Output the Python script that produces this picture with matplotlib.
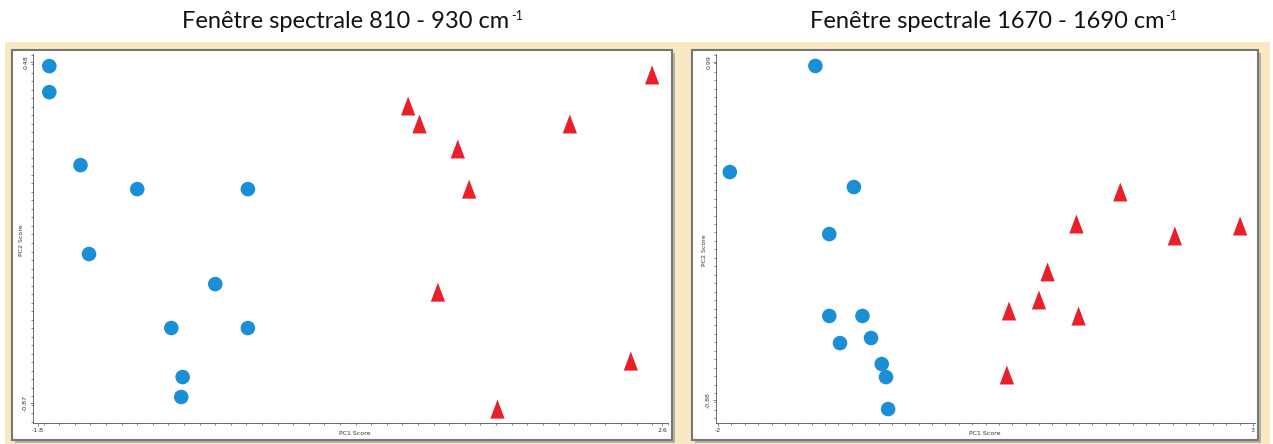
import matplotlib.pyplot as plt
from matplotlib.patches import Rectangle
from matplotlib.ticker import MultipleLocator

# scores (PC1, PC2)
left_blue_x = [-1.72, -1.72, -1.50, -1.10, -0.32, -1.44, -0.55, -0.86, -0.32, -0.78, -0.79]
left_blue_y = [0.464, 0.361, 0.072, -0.023, -0.023, -0.280, -0.399, -0.573, -0.573, -0.767, -0.846]
left_red_x = [2.53, 0.81, 0.89, 1.95, 1.16, 1.24, 1.02, 2.38, 1.44]
left_red_y = [0.425, 0.302, 0.231, 0.231, 0.132, -0.027, -0.435, -0.708, -0.898]

right_blue_x = [-1.09, -1.89, -0.73, -0.96, -0.96, -0.65, -0.86, -0.57, -0.47, -0.43, -0.41]
right_blue_y = [0.968, 0.381, 0.298, 0.038, -0.415, -0.415, -0.565, -0.537, -0.681, -0.753, -0.930]
right_red_x = [1.76, 2.88, 1.35, 2.27, 1.08, 1.00, 0.72, 1.37, 0.70]
right_red_y = [0.265, 0.077, 0.088, 0.022, -0.177, -0.332, -0.393, -0.421, -0.747]

titles = ["Fenêtre spectrale 810 - 930 cm", "Fenêtre spectrale 1670 - 1690 cm"]
x_ticks = [(-1.8, 2.6), (-2, 3)]
x_ticklabels = [("-1.8", "2.6"), ("-2", "3")]
y_ticks = [(-0.87, 0.48), (-0.88, 0.99)]
y_ticklabels = [("-0.87", "0.48"), ("-0.88", "0.99")]

W, H = 1273, 444
fig = plt.figure(figsize=(W / 100, H / 100), dpi=100)
fig.patch.set_facecolor("white")

def fx(px):
    return px / W

def fy(py):
    return 1 - py / H

# narrow, slightly tall triangle like the original software marker
tri = [(-0.42, -0.5), (0.42, -0.5), (0, 0.62), (-0.42, -0.5)]

# beige background band
fig.patches.append(Rectangle((fx(5), 0), fx(1265), fy(42), transform=fig.transFigure,
                             facecolor="#f8e8c4", edgecolor="none", zorder=-3))

panels = [
    dict(frame=(12, 50, 672, 440), ax=(33, 54, 668, 423),
         xlim=(-1.835, 2.642), ylim=(-0.949, 0.512), title_x=346,
         blue=(left_blue_x, left_blue_y), red=(left_red_x, left_red_y),
         pc1=(355, 433), pc2=(22, 240)),
    dict(frame=(692, 50, 1258, 440), ax=(716, 54, 1255, 423),
         xlim=(-2.019, 3.019), ylim=(-1.007, 1.034), title_x=987,
         blue=(right_blue_x, right_blue_y), red=(right_red_x, right_red_y),
         pc1=(985, 433), pc2=(705, 250)),
]

for i, p in enumerate(panels):
    x0, y0, x1, y1 = p["frame"]
    # white frame with grey border and a soft shadow
    fig.patches.append(Rectangle((fx(x0 + 3), fy(y1 + 3)), fx(x1 - x0), fy(y0) - fy(y1),
                                 transform=fig.transFigure, facecolor="#b8b0a0",
                                 edgecolor="none", zorder=-2))
    fig.patches.append(Rectangle((fx(x0), fy(y1)), fx(x1 - x0), fy(y0) - fy(y1),
                                 transform=fig.transFigure, facecolor="white",
                                 edgecolor="#777777", lw=1.5, zorder=-1))

    a0, b0, a1, b1 = p["ax"]
    ax = fig.add_axes([fx(a0), fy(b1), fx(a1 - a0), fy(b0) - fy(b1)])
    ax.set_facecolor("none")
    ax.set_xlim(*p["xlim"])
    ax.set_ylim(*p["ylim"])
    for s in ["top", "right"]:
        ax.spines[s].set_visible(False)
    for s in ["left", "bottom"]:
        ax.spines[s].set_color("#555555")
        ax.spines[s].set_linewidth(0.6)

    ax.scatter(*p["blue"], s=110, marker="o", color="#1b8fd5", edgecolors="none", zorder=3)
    ax.scatter(*p["red"], s=230, marker=tri, color="#e8202a", edgecolors="none", zorder=3)

    ax.set_xticks(x_ticks[i])
    ax.set_xticklabels(x_ticklabels[i], fontsize=4.5, color="#333333")
    ax.set_yticks(y_ticks[i])
    ax.set_yticklabels(y_ticklabels[i], fontsize=4.5, color="#333333", rotation=90, va="center")
    ax.xaxis.set_minor_locator(MultipleLocator((x_ticks[i][1] - x_ticks[i][0]) / 40))
    ax.yaxis.set_minor_locator(MultipleLocator((y_ticks[i][1] - y_ticks[i][0]) / 40))
    ax.tick_params(which="both", length=2, width=0.5, color="#555555", pad=1.5)
    ax.tick_params(which="minor", length=1.2)

    fig.text(fx(p["pc1"][0]), fy(p["pc1"][1]), "PC1 Score", fontsize=4.5, color="#333333",
             ha="center", va="center")
    fig.text(fx(p["pc2"][0]), fy(p["pc2"][1]), "PC2 Score", fontsize=4.5, color="#333333",
             ha="center", va="center", rotation=90)

    # title with a small "-1" superscript
    t = fig.text(fx(p["title_x"]), fy(28), titles[i], fontsize=17, family="Lato",
                 ha="center", va="baseline", color="#111111")
    fig.canvas.draw()
    bb = t.get_window_extent()
    fig.text(bb.x1 / W + 0.001, fy(20), "-1", fontsize=9, family="Lato",
             ha="left", va="baseline", color="#111111")

fig.savefig("out.png", dpi=100)
